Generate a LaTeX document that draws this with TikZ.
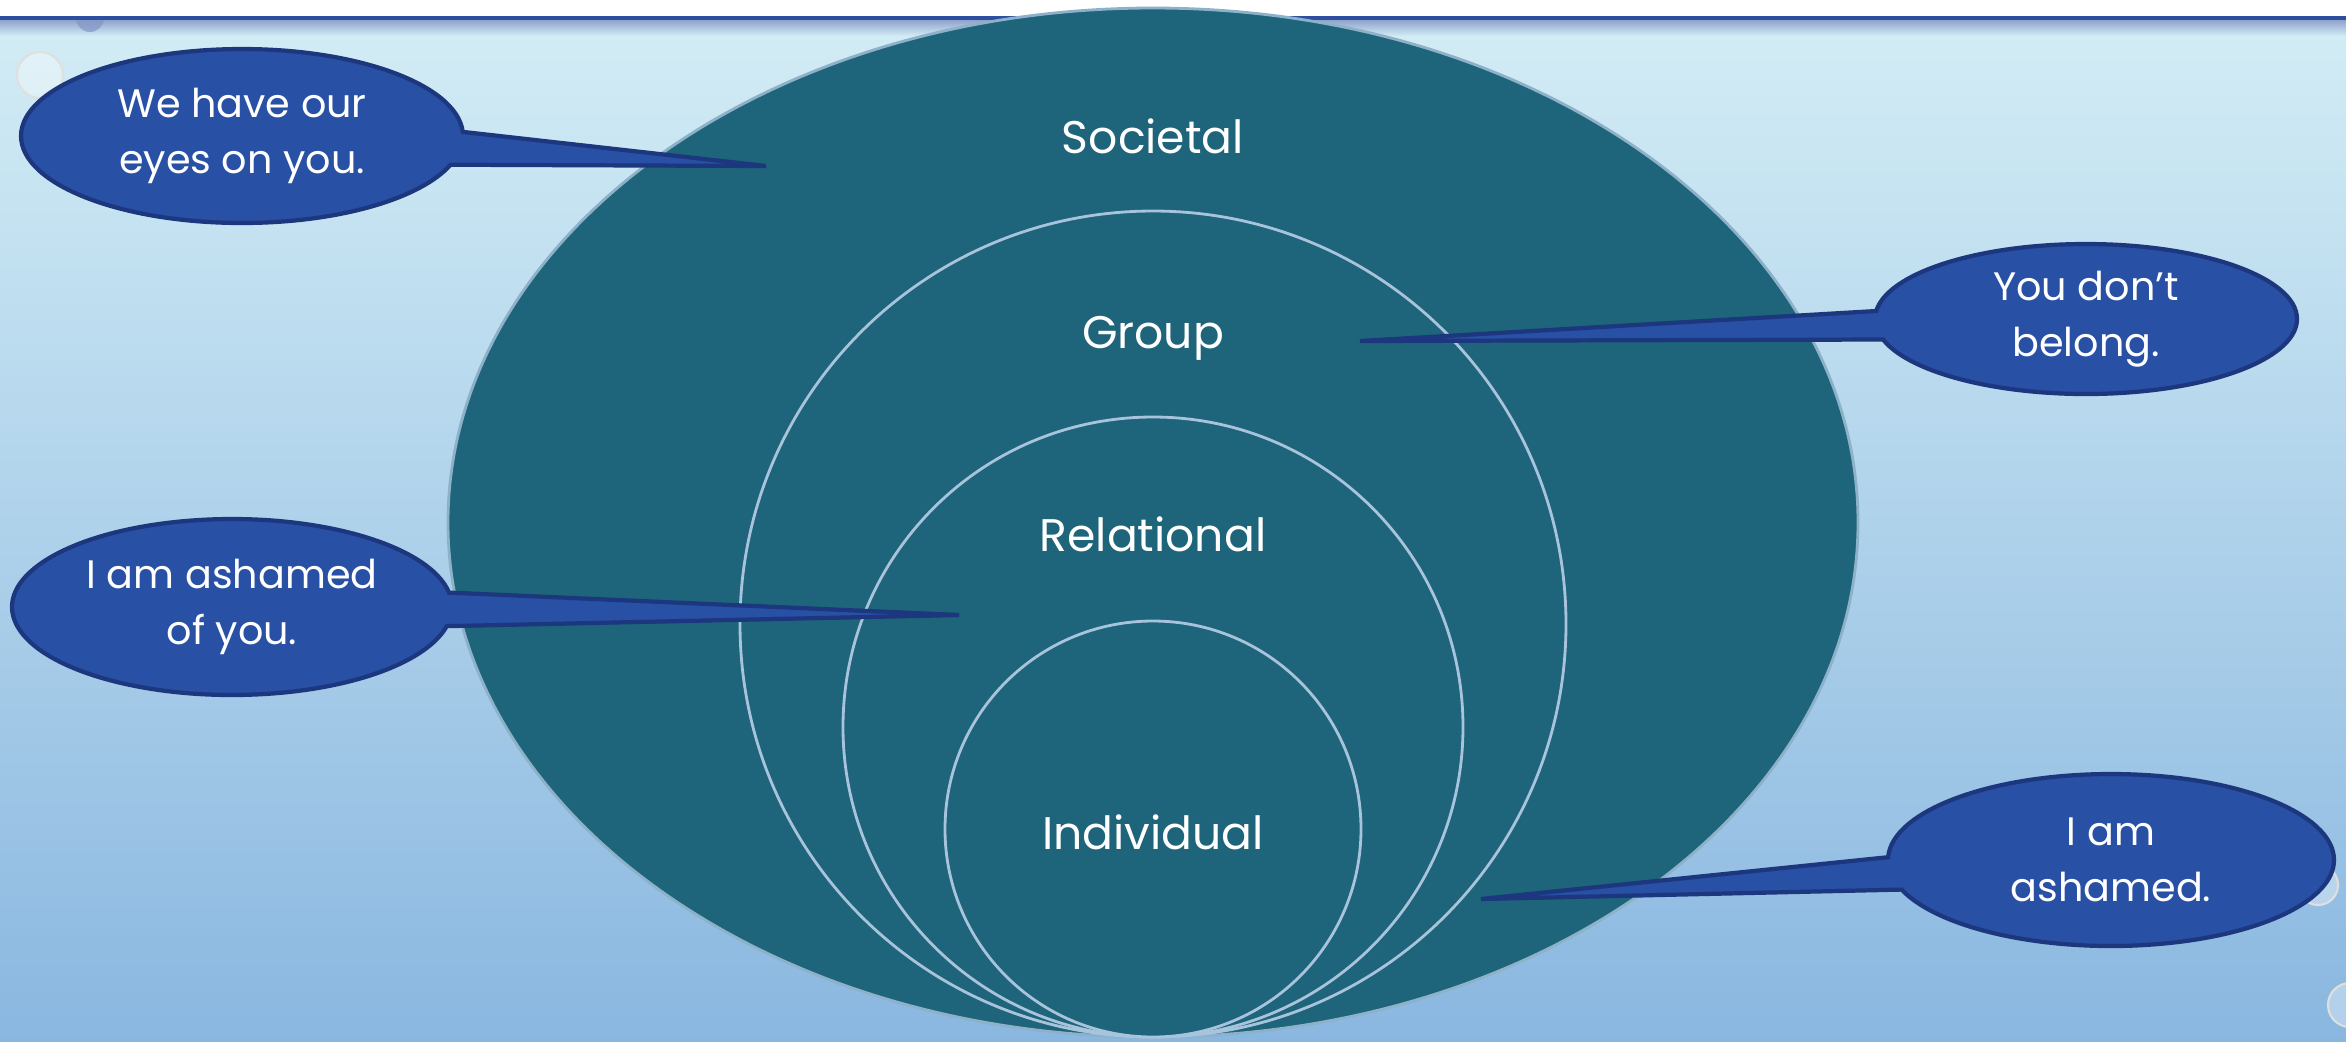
\documentclass[tikz,border=0pt]{standalone}
\usepackage{fontspec}
\setmainfont{Poppins}
\usepackage{xcolor}
\usepackage{tikz}
\definecolor{tealfill}{RGB}{30, 100, 122}
\definecolor{ringline}{RGB}{168, 196, 220}
\definecolor{bubbleblue}{RGB}{40, 80, 165}
\definecolor{bubbleedge}{RGB}{28, 55, 125}
\definecolor{skytop}{RGB}{210, 236, 245}
\definecolor{skybottom}{RGB}{138, 183, 224}
\definecolor{headline}{RGB}{46, 79, 160}
\usetikzlibrary{shapes,shapes.callouts,positioning,calc}

\begin{document}
\begin{tikzpicture}[
    layer/.style={draw=ringline, line width=0.8pt, fill=tealfill},
    lbl/.style={text=white, font=\fontsize{13}{16}\selectfont},
    bubble/.style={ellipse callout, fill=bubbleblue, draw=bubbleedge, line width=1.2pt, text=white, align=center, inner sep=0pt, font=\fontsize{11.3}{15.8}\selectfont, callout pointer arc=22},
    drop/.style={draw=white!75!gray, line width=0.6pt, fill=white, fill opacity=0.35}
]
    \useasboundingbox (0,0) rectangle (23.46,-10.41);

    % background and header band
    \fill[white] (0,0) rectangle (23.46,-0.16);
    \shade[top color=skytop, bottom color=skybottom] (0,-0.30) rectangle (23.46,-10.41);
    \shade[top color=headline!55!white, bottom color=skytop] (0,-0.19) rectangle (23.46,-0.36);
    \fill[headline] (0,-0.16) rectangle (23.46,-0.20);

    % water drops
    \begin{scope}
        \clip (0,-0.20) rectangle (2,-0.60);
        \fill[headline!60!white, opacity=0.7] (0.90,-0.18) circle (0.14);
    \end{scope}
    \draw[drop] (0.40,-0.75) circle (0.23);
    \draw[drop] (23.18,-8.85) circle (0.20);
    \draw[drop] (23.50,-10.05) circle (0.22);

    % nested layers
    \draw[layer, draw=ringline!80!tealfill] (11.53,-5.225) ellipse (7.05 and 5.145);
    \draw[layer] (11.53,-6.24) circle (4.13);
    \draw[layer] (11.53,-7.27) circle (3.10);
    \draw[layer] (11.53,-8.29) circle (2.08);

    \node[lbl] (societal) at (11.53,-1.36) {Societal};
    \node[lbl] (group) at (11.53,-3.38) {Group};
    \node[lbl] (relational) at (11.53,-5.34) {Relational};
    \node[lbl] (individual) at (11.53,-8.32) {Individual};

    % callout tips
    \coordinate (tipsoc) at (7.66,-1.66);
    \coordinate (tipgrp) at (13.60,-3.41);
    \coordinate (tiprel) at (9.59,-6.15);
    \coordinate (tipind) at (14.81,-8.99);

    \node[bubble, minimum width=4.42cm, minimum height=1.74cm, callout absolute pointer={(tipsoc)}] (eyes) at (2.42,-1.36) {We have our\\eyes on you.};
    \node[bubble, minimum width=4.22cm, minimum height=1.50cm, callout absolute pointer={(tipgrp)}] (belong) at (20.86,-3.19) {You don’t\\belong.};
    \node[bubble, minimum width=4.40cm, minimum height=1.76cm, callout absolute pointer={(tiprel)}] (ashamedof) at (2.32,-6.07) {I am ashamed\\of you.};
    \node[bubble, minimum width=4.46cm, minimum height=1.72cm, callout absolute pointer={(tipind)}] (ashamed) at (21.11,-8.60) {I am\\ashamed.};
\end{tikzpicture}
\end{document}
